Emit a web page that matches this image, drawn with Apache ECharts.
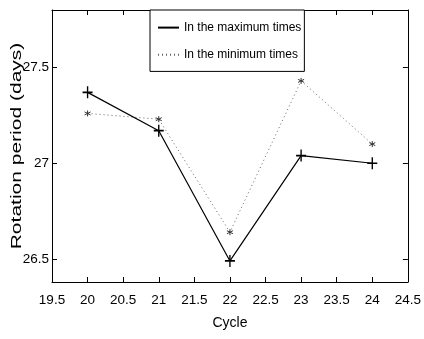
<!DOCTYPE html>
<html>
<head>
<meta charset="utf-8">
<script src="https://cdn.jsdelivr.net/npm/echarts@6/dist/echarts.min.js"></script>
<style>
html,body{margin:0;padding:0;background:#fff;}
#chart{width:424px;height:339px;}
</style>
</head>
<body>
<div id="chart"></div>
<script>
var cycles      = [20, 21, 22, 23, 24];
var maxTimes    = [27.37, 27.17, 26.49, 27.04, 27.00];
var minTimes    = [27.26, 27.23, 26.64, 27.43, 27.10];
var yTicks      = [26.5, 27, 27.5];
var seriesNames = ['In the maximum times', 'In the minimum times'];
var yName       = 'Rotation period (days)';

var FONT = '"Liberation Sans", Arial, sans-serif';
var PLUS = 'path://M5,0 L5,12 M0,6 L10,6';
var STAR = 'path://M5,0 L5,10 M0.7,2.5 L9.3,7.5 M0.7,7.5 L9.3,2.5';

function toPairs(xs, ys){
    var out = [];
    for(var i=0;i<xs.length;i++){
        out.push([xs[i], ys[i]]);
    }
    return out;
}

var chart = echarts.init(document.getElementById('chart'));

var frameX = {
    type:'value', min:19.5, max:24.5, interval:0.5,
    axisLine:{show:true, onZero:false, lineStyle:{color:'#000', width:1}},
    axisTick:{show:true, inside:true, length:5, lineStyle:{color:'#000'}},
    splitLine:{show:false}
};
var frameY = {
    type:'value', min:26.38, max:27.8,
    axisLine:{show:true, onZero:false, lineStyle:{color:'#000', width:1}},
    axisTick:{show:true, inside:true, length:5, customValues:yTicks, lineStyle:{color:'#000'}},
    splitLine:{show:false}
};

var option = {
    animation:false,
    backgroundColor:'#fff',
    grid:{left:52, right:13, top:10, bottom:57},
    // y axis title, stretched along its length like the original
    graphic:[{
        type:'text',
        x:17, y:146,
        rotation:Math.PI/2,
        scaleX:1.5,
        style:{
            text:yName,
            fontFamily:FONT, fontSize:14, fill:'#000',
            align:'center', verticalAlign:'middle'
        }
    }],
    legend:{
        orient:'vertical',
        left:150, top:10,
        padding:[11, 3, 10, 7],
        itemGap:14,
        itemWidth:21, itemHeight:14,
        borderColor:'#000', borderWidth:1,
        backgroundColor:'#fff',
        itemStyle:{opacity:0},
        textStyle:{fontFamily:FONT, fontSize:12, color:'#000'},
        data:seriesNames
    },
    xAxis:[
        Object.assign({}, frameX, {
            position:'bottom',
            name:'Cycle', nameLocation:'middle', nameGap:34,
            nameTextStyle:{fontFamily:FONT, fontSize:14, color:'#000'},
            axisLabel:{show:true, margin:11, fontFamily:FONT, fontSize:13.5, color:'#000'}
        }),
        Object.assign({}, frameX, {position:'top', axisLabel:{show:false}})
    ],
    yAxis:[
        Object.assign({}, frameY, {
            position:'left',
            axisLabel:{show:true, margin:3, customValues:yTicks, fontFamily:FONT, fontSize:13.5, color:'#000'}
        }),
        Object.assign({}, frameY, {position:'right', axisLabel:{show:false}})
    ],
    series:[
        {
            name:seriesNames[0],
            type:'line',
            data:toPairs(cycles, maxTimes),
            symbol:PLUS, symbolSize:[10, 12],
            itemStyle:{color:'#000', borderColor:'#000', borderWidth:1.5},
            lineStyle:{color:'#000', width:1.2, type:'solid'},
            z:3
        },
        {
            name:seriesNames[1],
            type:'line',
            data:toPairs(cycles, minTimes),
            symbol:STAR, symbolSize:6,
            itemStyle:{color:'#000', borderColor:'#333', borderWidth:1},
            lineStyle:{color:'#666', width:1, type:[1, 3]},
            z:2
        }
    ]
};
chart.setOption(option);
</script>
</body>
</html>
